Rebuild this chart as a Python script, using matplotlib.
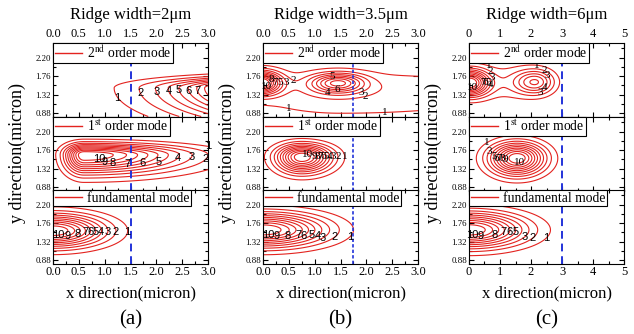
import matplotlib
matplotlib.use("Agg")
import matplotlib.pyplot as plt
import numpy as np
from matplotlib.lines import Line2D
from matplotlib.ticker import AutoMinorLocator, FormatStrFormatter

plt.rcParams['font.family'] = 'Liberation Serif'
plt.rcParams['mathtext.fontset'] = 'stix'

# column titles, x ranges and where the ridge edge sits
titles = ['Ridge width=2\u03bcm', 'Ridge width=3.5\u03bcm', 'Ridge width=6\u03bcm']
panel_tags = ['(a)', '(b)', '(c)']
x_max = [3.0, 3.0, 5.0]
x_step = [0.5, 0.5, 1.0]
ridge_edge = [1.5, 1.75, 3.0]
mode_names = ['2$^{\\mathrm{nd}}$ order mode', '1$^{\\mathrm{st}}$ order mode', 'fundamental mode']
y_ticks = [0.88, 1.32, 1.76, 2.20]
y_lim = (0.80, 2.55)
levels = [1, 2, 3, 4, 5, 6, 7, 8, 9, 10]

# field lobes: (amp, x0, y0, sx_left, sx_right, sy_down, sy_up)
lobes_a_2nd = [(20, 5.1, 1.48, 1.6, 1.6, 0.50, 0.16)]
lobes_a_1st = [(11, 0.60, 1.65, 0.25, 1.30, 0.30, 0.17)]
lobes_a_fun = [(11, 0.00, 1.58, 0.66, 0.66, 0.26, 0.26)]
lobes_b_2nd = [(11, -0.05, 1.60, 0.26, 0.26, 0.18, 0.18),
               (7, 1.45, 1.60, 0.35, 0.35, 0.16, 0.15),
               (1.8, 1.50, 1.42, 1.5, 3.0, 0.50, 0.35)]
lobes_b_1st = [(11, 0.75, 1.60, 0.33, 0.38, 0.25, 0.20)]
lobes_b_fun = [(11, 0.00, 1.60, 0.80, 0.80, 0.27, 0.27)]
lobes_c_2nd = [(11, 0.00, 1.60, 0.42, 0.42, 0.21, 0.21),
               (5.5, 2.15, 1.62, 0.45, 0.40, 0.20, 0.20),
               (1.5, 1.20, 1.60, 0.80, 0.80, 0.30, 0.30)]
lobes_c_1st = [(11, 1.55, 1.57, 0.60, 0.60, 0.27, 0.25)]
lobes_c_fun = [(11, 0.00, 1.60, 1.20, 1.20, 0.28, 0.28)]

# contour labels: (level, x, y) near where each number is printed
labels_a_2nd = [(1, 1.15, 1.15), (2, 1.45, 1.2), (3, 1.7, 1.25), (4, 1.95, 1.3), (5, 2.15, 1.35),
                (6, 2.45, 1.35), (7, 2.75, 1.4)]
labels_a_1st = [(10, 0.9, 1.55), (9, 1.0, 1.55), (8, 1.15, 1.5), (7, 1.45, 1.45), (6, 1.75, 1.45),
                (5, 2.05, 1.45), (4, 2.5, 1.45), (3, 2.8, 1.5), (2, 2.92, 1.6), (1, 2.98, 1.75)]
labels_a_fun = [(10, 0.1, 1.55), (9, 0.25, 1.55), (8, 0.45, 1.55), (7, 0.62, 1.55), (6, 0.72, 1.55),
                (5, 0.82, 1.55), (4, 0.93, 1.55), (3, 1.05, 1.55), (2, 1.2, 1.55), (1, 1.45, 1.55)]
labels_b_2nd = [(10, 0.05, 1.55), (8, 0.15, 1.65), (7, 0.25, 1.6), (5, 0.33, 1.6), (3, 0.42, 1.6),
                (2, 0.55, 1.55), (1, 0.55, 1.3), (4, 1.25, 1.5), (5, 1.35, 1.62), (6, 1.45, 1.5),
                (3, 1.85, 1.55), (2, 1.95, 1.4), (1, 2.35, 1.0)]
labels_b_1st = [(10, 0.85, 1.6), (9, 0.95, 1.6), (8, 1.05, 1.6), (7, 1.12, 1.6), (6, 1.2, 1.6),
                (5, 1.27, 1.6), (4, 1.33, 1.6), (3, 1.38, 1.6), (2, 1.45, 1.6), (1, 1.58, 1.6)]
labels_b_fun = [(10, 0.1, 1.55), (9, 0.25, 1.55), (8, 0.45, 1.55), (7, 0.65, 1.55), (6, 0.75, 1.55),
                (5, 0.9, 1.55), (4, 1.0, 1.55), (3, 1.1, 1.55), (2, 1.3, 1.55), (1, 1.6, 1.55)]
labels_c_2nd = [(10, 0.1, 1.55), (7, 0.35, 1.6), (6, 0.5, 1.6), (5, 0.65, 1.6), (4, 0.8, 1.55),
                (3, 0.8, 1.75), (2, 0.75, 1.95), (1, 0.7, 2.15), (3, 2.25, 1.5), (4, 2.45, 1.5),
                (1, 2.2, 2.1), (2, 2.45, 1.95), (3, 2.55, 1.8)]
labels_c_1st = [(1, 0.5, 2.0), (3, 0.5, 1.8), (5, 0.55, 1.62), (6, 0.7, 1.55), (7, 0.85, 1.55),
                (8, 1.0, 1.55), (9, 1.25, 1.55), (10, 1.6, 1.55)]
labels_c_fun = [(10, 0.1, 1.55), (9, 0.35, 1.55), (8, 0.8, 1.55), (7, 1.1, 1.55), (6, 1.3, 1.55),
                (5, 1.5, 1.55), (3, 1.7, 1.55), (2, 1.9, 1.55), (1, 2.3, 1.55)]

lobes = [[lobes_a_2nd, lobes_a_1st, lobes_a_fun],
         [lobes_b_2nd, lobes_b_1st, lobes_b_fun],
         [lobes_c_2nd, lobes_c_1st, lobes_c_fun]]
label_pos = [[labels_a_2nd, labels_a_1st, labels_a_fun],
             [labels_b_2nd, labels_b_1st, labels_b_fun],
             [labels_c_2nd, labels_c_1st, labels_c_fun]]
label_font = [['Liberation Sans'] * 3,
              ['Liberation Serif', 'Liberation Serif', 'Liberation Sans'],
              ['Liberation Serif', 'Liberation Serif', 'Liberation Sans']]

red = '#e3231f'
blue = '#2233d9'
W, H = 634, 334


def field(X, Y, lobe_list):
    Z = np.zeros_like(X)
    for amp, x0, y0, sxl, sxr, syd, syu in lobe_list:
        sx = np.where(X < x0, sxl, sxr)
        sy = np.where(Y < y0, syd, syu)
        Z += amp * np.exp(-0.5 * ((X - x0) / sx) ** 2 - 0.5 * ((Y - y0) / sy) ** 2)
    return Z


fig = plt.figure(figsize=(W / 100, H / 100), dpi=100)

col_left = [53, 263, 469]
col_w = 155
row_top = [43, 117, 190]
row_h = 73.5

for c in range(3):
    for r in range(3):
        ax = fig.add_axes([col_left[c] / W, 1 - (row_top[r] + row_h) / H, col_w / W, row_h / H])
        x = np.linspace(0, x_max[c], 151)
        y = np.linspace(y_lim[0], y_lim[1], 121)
        X, Y = np.meshgrid(x, y)
        Z = field(X, Y, lobes[c][r])
        cs = ax.contour(X, Y, Z, levels=levels, colors=red, linewidths=0.8)

        # put each number on its own contour, at the point nearest the read-off spot
        paths = cs.get_paths()
        kx = col_w / x_max[c]
        ky = row_h / (y_lim[1] - y_lim[0])
        for lev, lx, ly in label_pos[c][r]:
            v = paths[levels.index(lev)].vertices
            if len(v) == 0:
                continue
            d = ((v[:, 0] - lx) * kx) ** 2 + ((v[:, 1] - ly) * ky) ** 2
            px, py = v[np.argmin(d)]
            ax.text(px, py, str(lev), ha='center', va='center', fontsize=8,
                    family=label_font[c][r], color='black', zorder=4)

        if c == 1:
            ax.axvline(ridge_edge[c], color=blue, lw=1.2, dashes=(2, 1.3))
        else:
            ax.axvline(ridge_edge[c], color=blue, lw=1.4, dashes=(4, 2.5))

        ax.set_xlim(0, x_max[c])
        ax.set_ylim(*y_lim)
        ax.set_xticks(np.arange(0, x_max[c] + 0.01, x_step[c]))
        ax.set_yticks(y_ticks)
        ax.yaxis.set_major_formatter(FormatStrFormatter('%.2f'))
        if c < 2:
            ax.xaxis.set_major_formatter(FormatStrFormatter('%.1f'))
        else:
            ax.xaxis.set_major_formatter(FormatStrFormatter('%d'))
        ax.xaxis.set_minor_locator(AutoMinorLocator(2))
        ax.yaxis.set_minor_locator(AutoMinorLocator(2))
        ax.tick_params(which='both', direction='in', top=True, right=True,
                       labelbottom=(r == 2), labeltop=(r == 0), width=0.8)
        ax.tick_params(which='major', length=3.5)
        ax.tick_params(which='minor', length=2)
        ax.tick_params(axis='x', labelsize=9, pad=2)
        ax.tick_params(axis='y', labelsize=6.3, pad=1.5)
        for s in ax.spines.values():
            s.set_linewidth(0.8)

        leg = ax.legend(handles=[Line2D([], [], color=red, lw=1)], labels=[mode_names[r]],
                        loc='upper left', borderaxespad=0, fancybox=False, edgecolor='black',
                        framealpha=1, prop={'family': 'Liberation Serif', 'size': 9.8},
                        handlelength=2.0, borderpad=0.12, handletextpad=0.4)
        leg.get_frame().set_linewidth(0.8)
        leg.set_zorder(5)

    cx = (col_left[c] + col_w / 2) / W
    fig.text(cx, 1 - 15 / H, titles[c], ha='center', va='center', fontsize=12)
    fig.text(cx, 1 - 293 / H, 'x direction(micron)', ha='center', va='center', fontsize=12)
    fig.text(cx, 1 - 320 / H, panel_tags[c], ha='center', va='center', fontsize=15)
    fig.text((col_left[c] - 36) / W, 1 - 153 / H, 'y direction(micron)', ha='center', va='center',
             rotation=90, fontsize=13)

fig.savefig('out.png', dpi=100)
